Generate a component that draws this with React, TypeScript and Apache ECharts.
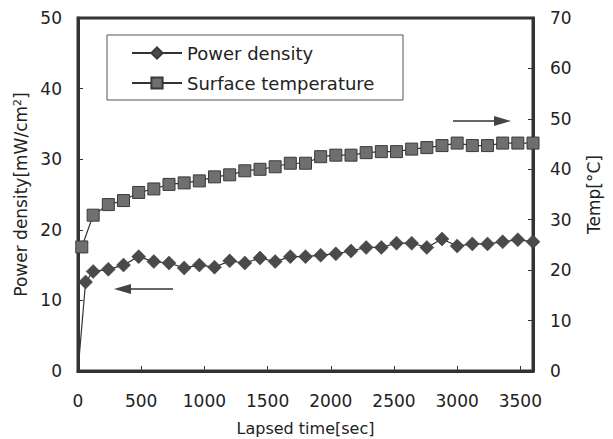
import React, { useEffect, useRef } from "react";
import * as echarts from "echarts";

// Lapsed time [sec] for each series
const powerTimes = [0, 60, 120, 240, 360, 480, 600, 720, 840, 960, 1080, 1200, 1320, 1440, 1560, 1680, 1800, 1920, 2040, 2160, 2280, 2400, 2520, 2640, 2760, 2880, 3000, 3120, 3240, 3360, 3480, 3600];
const powerDensity = [0, 12.6, 14.1, 14.4, 15.0, 16.2, 15.5, 15.3, 14.6, 15.0, 14.7, 15.6, 15.3, 16.0, 15.5, 16.2, 16.2, 16.4, 16.6, 17.0, 17.5, 17.5, 18.1, 18.1, 17.5, 18.7, 17.7, 18.0, 18.0, 18.3, 18.6, 18.3];

const tempTimes = [30, 120, 240, 360, 480, 600, 720, 840, 960, 1080, 1200, 1320, 1440, 1560, 1680, 1800, 1920, 2040, 2160, 2280, 2400, 2520, 2640, 2760, 2880, 3000, 3120, 3240, 3360, 3480, 3600];
const surfaceTemp = [24.6, 30.9, 33.0, 33.8, 35.4, 36.1, 37.0, 37.3, 37.7, 38.5, 38.9, 39.7, 40.0, 40.5, 41.2, 41.2, 42.5, 42.8, 42.8, 43.3, 43.5, 43.5, 44.0, 44.3, 44.7, 45.2, 44.7, 44.7, 45.2, 45.2, 45.2];

const seriesNames = ["Power density", "Surface temperature"];
const xAxisTitle = "Lapsed time[sec]";
const leftAxisTitle = "Power density[mW/cm{sup|2}]";
const rightAxisTitle = "Temp[°C]";

export default function App() {
  const ref = useRef<HTMLDivElement>(null);

  useEffect(() => {
    document.body.style.margin = "0";
    const chart = echarts.init(ref.current!, null, { renderer: "svg" });
    const font = "DejaVu Sans";
    const axisColor = "#333";
    const textColor = "#222";
    const plain = (v: number) => String(v);

    const powerData = powerTimes.map((t, i) =>
      i === 0 ? { value: [t, powerDensity[i]], symbol: "none" } : { value: [t, powerDensity[i]] }
    );
    const tempData = tempTimes.map((t, i) => [t, surfaceTemp[i]]);

    chart.setOption({
      animation: false,
      backgroundColor: "#fff",
      textStyle: { fontFamily: font, color: textColor },
      grid: {
        left: 78,
        right: 80,
        top: 18,
        bottom: 68,
        show: true,
        borderColor: axisColor,
        borderWidth: 3,
        containLabel: false,
        outerBoundsMode: "none",
      },
      legend: {
        orient: "vertical",
        left: 131,
        top: 44,
        padding: 0,
        itemWidth: 50,
        itemHeight: 14,
        itemGap: 12,
        data: seriesNames,
        textStyle: { fontFamily: font, fontSize: 18, color: textColor },
      },
      xAxis: {
        type: "value",
        min: 0,
        max: 3600,
        interval: 500,
        name: xAxisTitle,
        nameLocation: "middle",
        nameGap: 49,
        nameTextStyle: { fontFamily: font, fontSize: 16, color: textColor },
        axisLine: { show: true, lineStyle: { color: axisColor, width: 3 } },
        axisTick: { show: true, inside: true, length: 5, lineStyle: { color: axisColor } },
        axisLabel: { fontSize: 17, color: textColor, margin: 21, showMaxLabel: false, fontFamily: font, formatter: plain },
        splitLine: { show: false },
      },
      yAxis: [
        {
          type: "value",
          min: 0,
          max: 50,
          interval: 10,
          position: "left",
          name: leftAxisTitle,
          nameLocation: "middle",
          nameGap: 48,
          nameRotate: 90,
          nameTextStyle: {
            fontFamily: font,
            fontSize: 17,
            color: textColor,
            rich: { sup: { fontSize: 11, verticalAlign: "top", fontFamily: font, color: textColor } },
          },
          axisLine: { show: true, lineStyle: { color: axisColor, width: 3 } },
          axisTick: { show: true, inside: true, length: 5, lineStyle: { color: axisColor } },
          axisLabel: { fontSize: 17, color: textColor, margin: 16, fontFamily: font, formatter: plain },
          splitLine: { show: false },
        },
        {
          type: "value",
          min: 0,
          max: 70,
          interval: 10,
          position: "right",
          name: rightAxisTitle,
          nameLocation: "middle",
          nameGap: 52,
          nameRotate: 90,
          nameTextStyle: { fontFamily: font, fontSize: 17, color: textColor },
          axisLine: { show: true, lineStyle: { color: axisColor, width: 3 } },
          axisTick: { show: true, inside: true, length: 5, lineStyle: { color: axisColor } },
          axisLabel: { fontSize: 17, color: textColor, margin: 17, fontFamily: font, formatter: plain },
          splitLine: { show: false },
        },
      ],
      series: [
        {
          name: seriesNames[0],
          type: "line",
          yAxisIndex: 0,
          data: powerData,
          symbol: "diamond",
          symbolSize: 14,
          lineStyle: { color: "#333", width: 1.2 },
          itemStyle: { color: "#4a4a4a", borderColor: "#3a3a3a", borderWidth: 0.5 },
          z: 3,
        },
        {
          name: seriesNames[1],
          type: "line",
          yAxisIndex: 1,
          data: tempData,
          symbol: "rect",
          symbolSize: 12,
          lineStyle: { color: "#333", width: 1.2 },
          itemStyle: { color: "#6f6f6f", borderColor: "#3a3a3a", borderWidth: 1 },
          z: 3,
        },
      ],
      graphic: [
        {
          type: "rect",
          shape: { x: 107, y: 35, width: 296, height: 65 },
          style: { fill: "none", stroke: "#555", lineWidth: 1 },
          z: 1,
        },
        // left arrow (power density -> left axis)
        {
          type: "line",
          shape: { x1: 173, y1: 289, x2: 126, y2: 289 },
          style: { stroke: "#333", lineWidth: 1.5 },
        },
        {
          type: "polygon",
          shape: { points: [[114, 289], [131, 284], [131, 294]] },
          style: { fill: "#444" },
        },
        // right arrow (temperature -> right axis)
        {
          type: "line",
          shape: { x1: 453, y1: 121, x2: 500, y2: 121 },
          style: { stroke: "#333", lineWidth: 1.5 },
        },
        {
          type: "polygon",
          shape: { points: [[511, 121], [494, 116], [494, 126]] },
          style: { fill: "#444" },
        },
      ],
    });

    return () => chart.dispose();
  }, []);

  return (
    <div
      ref={ref}
      style={{ position: "absolute", left: 0, top: 0, width: 613, height: 439 }}
    />
  );
}
